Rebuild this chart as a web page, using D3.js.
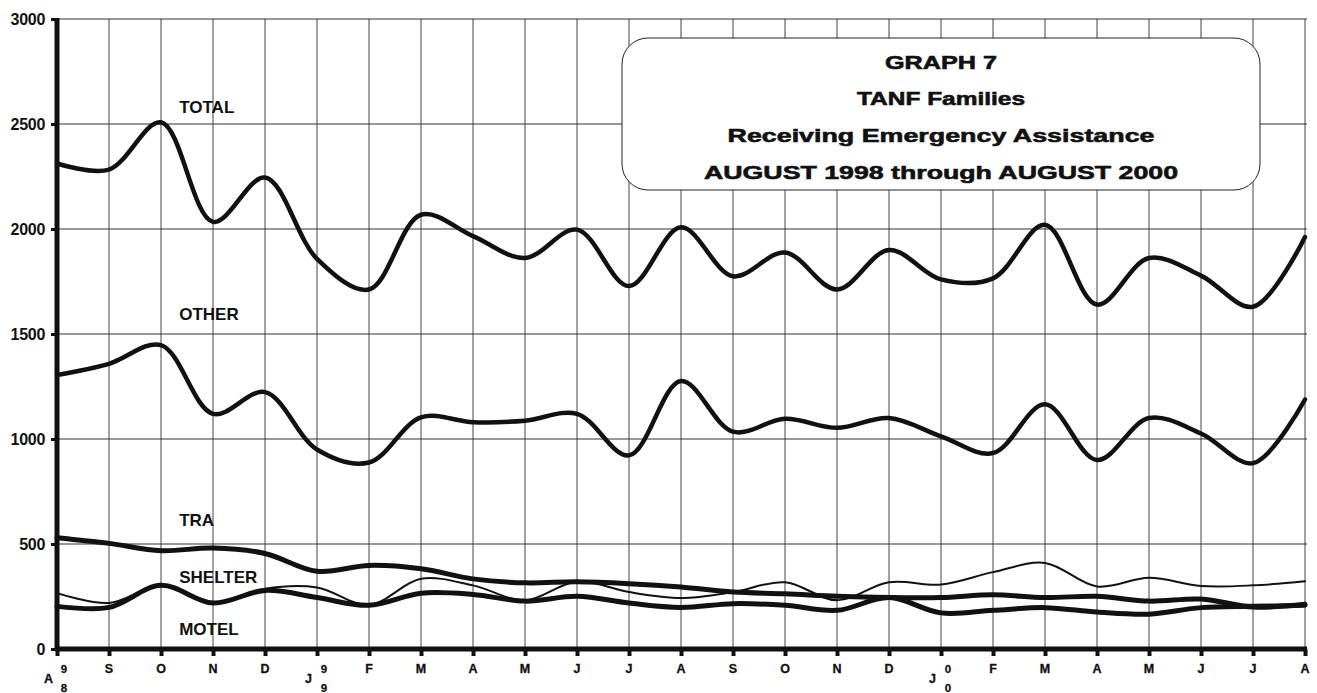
<!DOCTYPE html>
<html><head><meta charset="utf-8">
<script src="https://cdn.jsdelivr.net/npm/d3@7/dist/d3.min.js"></script>
<style>
html,body{margin:0;padding:0;background:#fff;}
svg{display:block;}
text{font-family:"Liberation Sans",Arial,sans-serif;font-weight:bold;fill:#111;}
</style></head>
<body>
<svg id="c" width="1317" height="693"></svg>
<script>
// ---- data ----
const months = ["A","S","O","N","D","J","F","M","A","M","J","J","A","S","O","N","D","J","F","M","A","M","J","J","A"];
const yearMarks = {0:["9","8"],5:["9","9"],17:["0","0"]};
const yTicks = [0,500,1000,1500,2000,2500,3000];
const total   = [2312,2283,2508,2034,2245,1858,1712,2068,1966,1862,1997,1728,2008,1775,1888,1712,1900,1760,1765,2020,1640,1862,1778,1630,1962];
const other   = [1305,1358,1447,1120,1223,950,888,1103,1080,1087,1120,922,1276,1035,1096,1053,1100,1013,933,1165,900,1100,1026,885,1188];
const tra     = [530,503,468,481,455,370,398,382,334,315,320,311,295,271,263,251,245,245,258,245,251,228,238,200,213];
const shelter = [266,219,300,218,287,293,210,334,303,232,322,271,243,271,318,232,318,307,366,410,298,339,300,303,323];
const motel   = [203,198,303,219,279,245,208,266,260,228,251,219,198,216,208,184,245,172,184,197,176,166,197,203,208];
const seriesLabels = [
  {name:"TOTAL", x:2.35, v:2552},
  {name:"OTHER", x:2.35, v:1567},
  {name:"TRA", x:2.35, v:586},
  {name:"SHELTER", x:2.35, v:314},
  {name:"MOTEL", x:2.35, v:67}
];
const titleLines = ["GRAPH 7","TANF Families","Receiving Emergency Assistance","AUGUST 1998 through AUGUST 2000"];
const titleWidths = [112,168,427,474];

// ---- drawing ----
const svg = d3.select("#c");
const L = 57, R = 1305, T = 19, B = 649;
const x = d3.scaleLinear().domain([0, months.length-1]).range([L, R]);
const y = d3.scaleLinear().domain([0, 3000]).range([B, T]);

// grid
const grid = svg.append("g");
grid.selectAll("line.v").data(d3.range(months.length)).join("line")
  .attr("x1", d => x(d)).attr("x2", d => x(d)).attr("y1", T).attr("y2", B)
  .attr("stroke", "#444").attr("stroke-width", 1);
grid.selectAll("line.h").data(yTicks).join("line")
  .attr("x1", L).attr("x2", R + 2).attr("y1", d => y(d)).attr("y2", d => y(d))
  .attr("stroke", "#333").attr("stroke-width", 1.1);

// y axis
const ya = svg.append("g").attr("transform", `translate(${L},0)`)
  .call(d3.axisLeft(y).tickValues(yTicks).tickSize(6).tickPadding(6).tickFormat(d3.format("d")));
ya.select(".domain").attr("stroke", "#111").attr("stroke-width", 5).attr("d", `M0,${T-1}V${B+2}`);
ya.selectAll(".tick line").attr("stroke", "#111").attr("stroke-width", 3);
ya.selectAll(".tick text").attr("font-size", 16).attr("letter-spacing", "-0.3px")
  .attr("font-weight", "bold").attr("fill", "#111");

// x axis
const xa = svg.append("g").attr("transform", `translate(0,${B})`)
  .call(d3.axisBottom(x).tickValues(d3.range(months.length)).tickSize(7).tickFormat(""));
xa.select(".domain").attr("stroke", "#111").attr("stroke-width", 5).attr("d", `M${L-2},0H${R+2}`);
xa.selectAll(".tick line").attr("stroke", "#111").attr("stroke-width", 4);

const xl = svg.append("g").attr("font-size", 12.5).attr("stroke", "#111").attr("stroke-width", 0.3);
months.forEach((m, i) => {
  const ym = yearMarks[i];
  if (ym) {
    xl.append("text").attr("x", x(i) - 8.5).attr("y", 683).attr("text-anchor", "middle").text(m);
    xl.append("text").attr("x", x(i) + 7).attr("y", 673).attr("text-anchor", "middle").attr("font-size", 11.5).text(ym[0]);
    xl.append("text").attr("x", x(i) + 7).attr("y", 692).attr("text-anchor", "middle").attr("font-size", 11.5).text(ym[1]);
  } else {
    xl.append("text").attr("x", x(i)).attr("y", 673).attr("text-anchor", "middle").text(m);
  }
});

// title box
const bx = 622, by = 38, bw = 638, bh = 152;
svg.append("rect").attr("x", bx).attr("y", by).attr("width", bw).attr("height", bh)
  .attr("rx", 26).attr("ry", 26).attr("fill", "#fff").attr("stroke", "#222").attr("stroke-width", 1);
const tys = [69, 105, 142, 179];
titleLines.forEach((t, i) => {
  svg.append("text").attr("x", bx + bw/2).attr("y", tys[i]).attr("text-anchor", "middle")
    .attr("font-size", 19).attr("stroke", "#111").attr("stroke-width", 0.6)
    .attr("textLength", titleWidths[i]).attr("lengthAdjust", "spacingAndGlyphs").text(t);
});

// lines
const line = d3.line().x((d, i) => x(i)).y(d => y(d)).curve(d3.curveCatmullRom.alpha(0.5));
const series = [
  {d: total, w: 4.5}, {d: other, w: 4.5}, {d: tra, w: 5}, {d: motel, w: 5}, {d: shelter, w: 2}
];
svg.append("g").selectAll("path").data(series).join("path")
  .attr("d", s => line(s.d)).attr("fill", "none").attr("stroke", "#111")
  .attr("stroke-width", s => s.w).attr("stroke-linejoin", "round").attr("stroke-linecap", "round");

// series labels
svg.append("g").selectAll("text").data(seriesLabels).join("text")
  .attr("x", d => x(d.x)).attr("y", d => y(d.v)).attr("font-size", 17).text(d => d.name);
</script>
</body></html>
